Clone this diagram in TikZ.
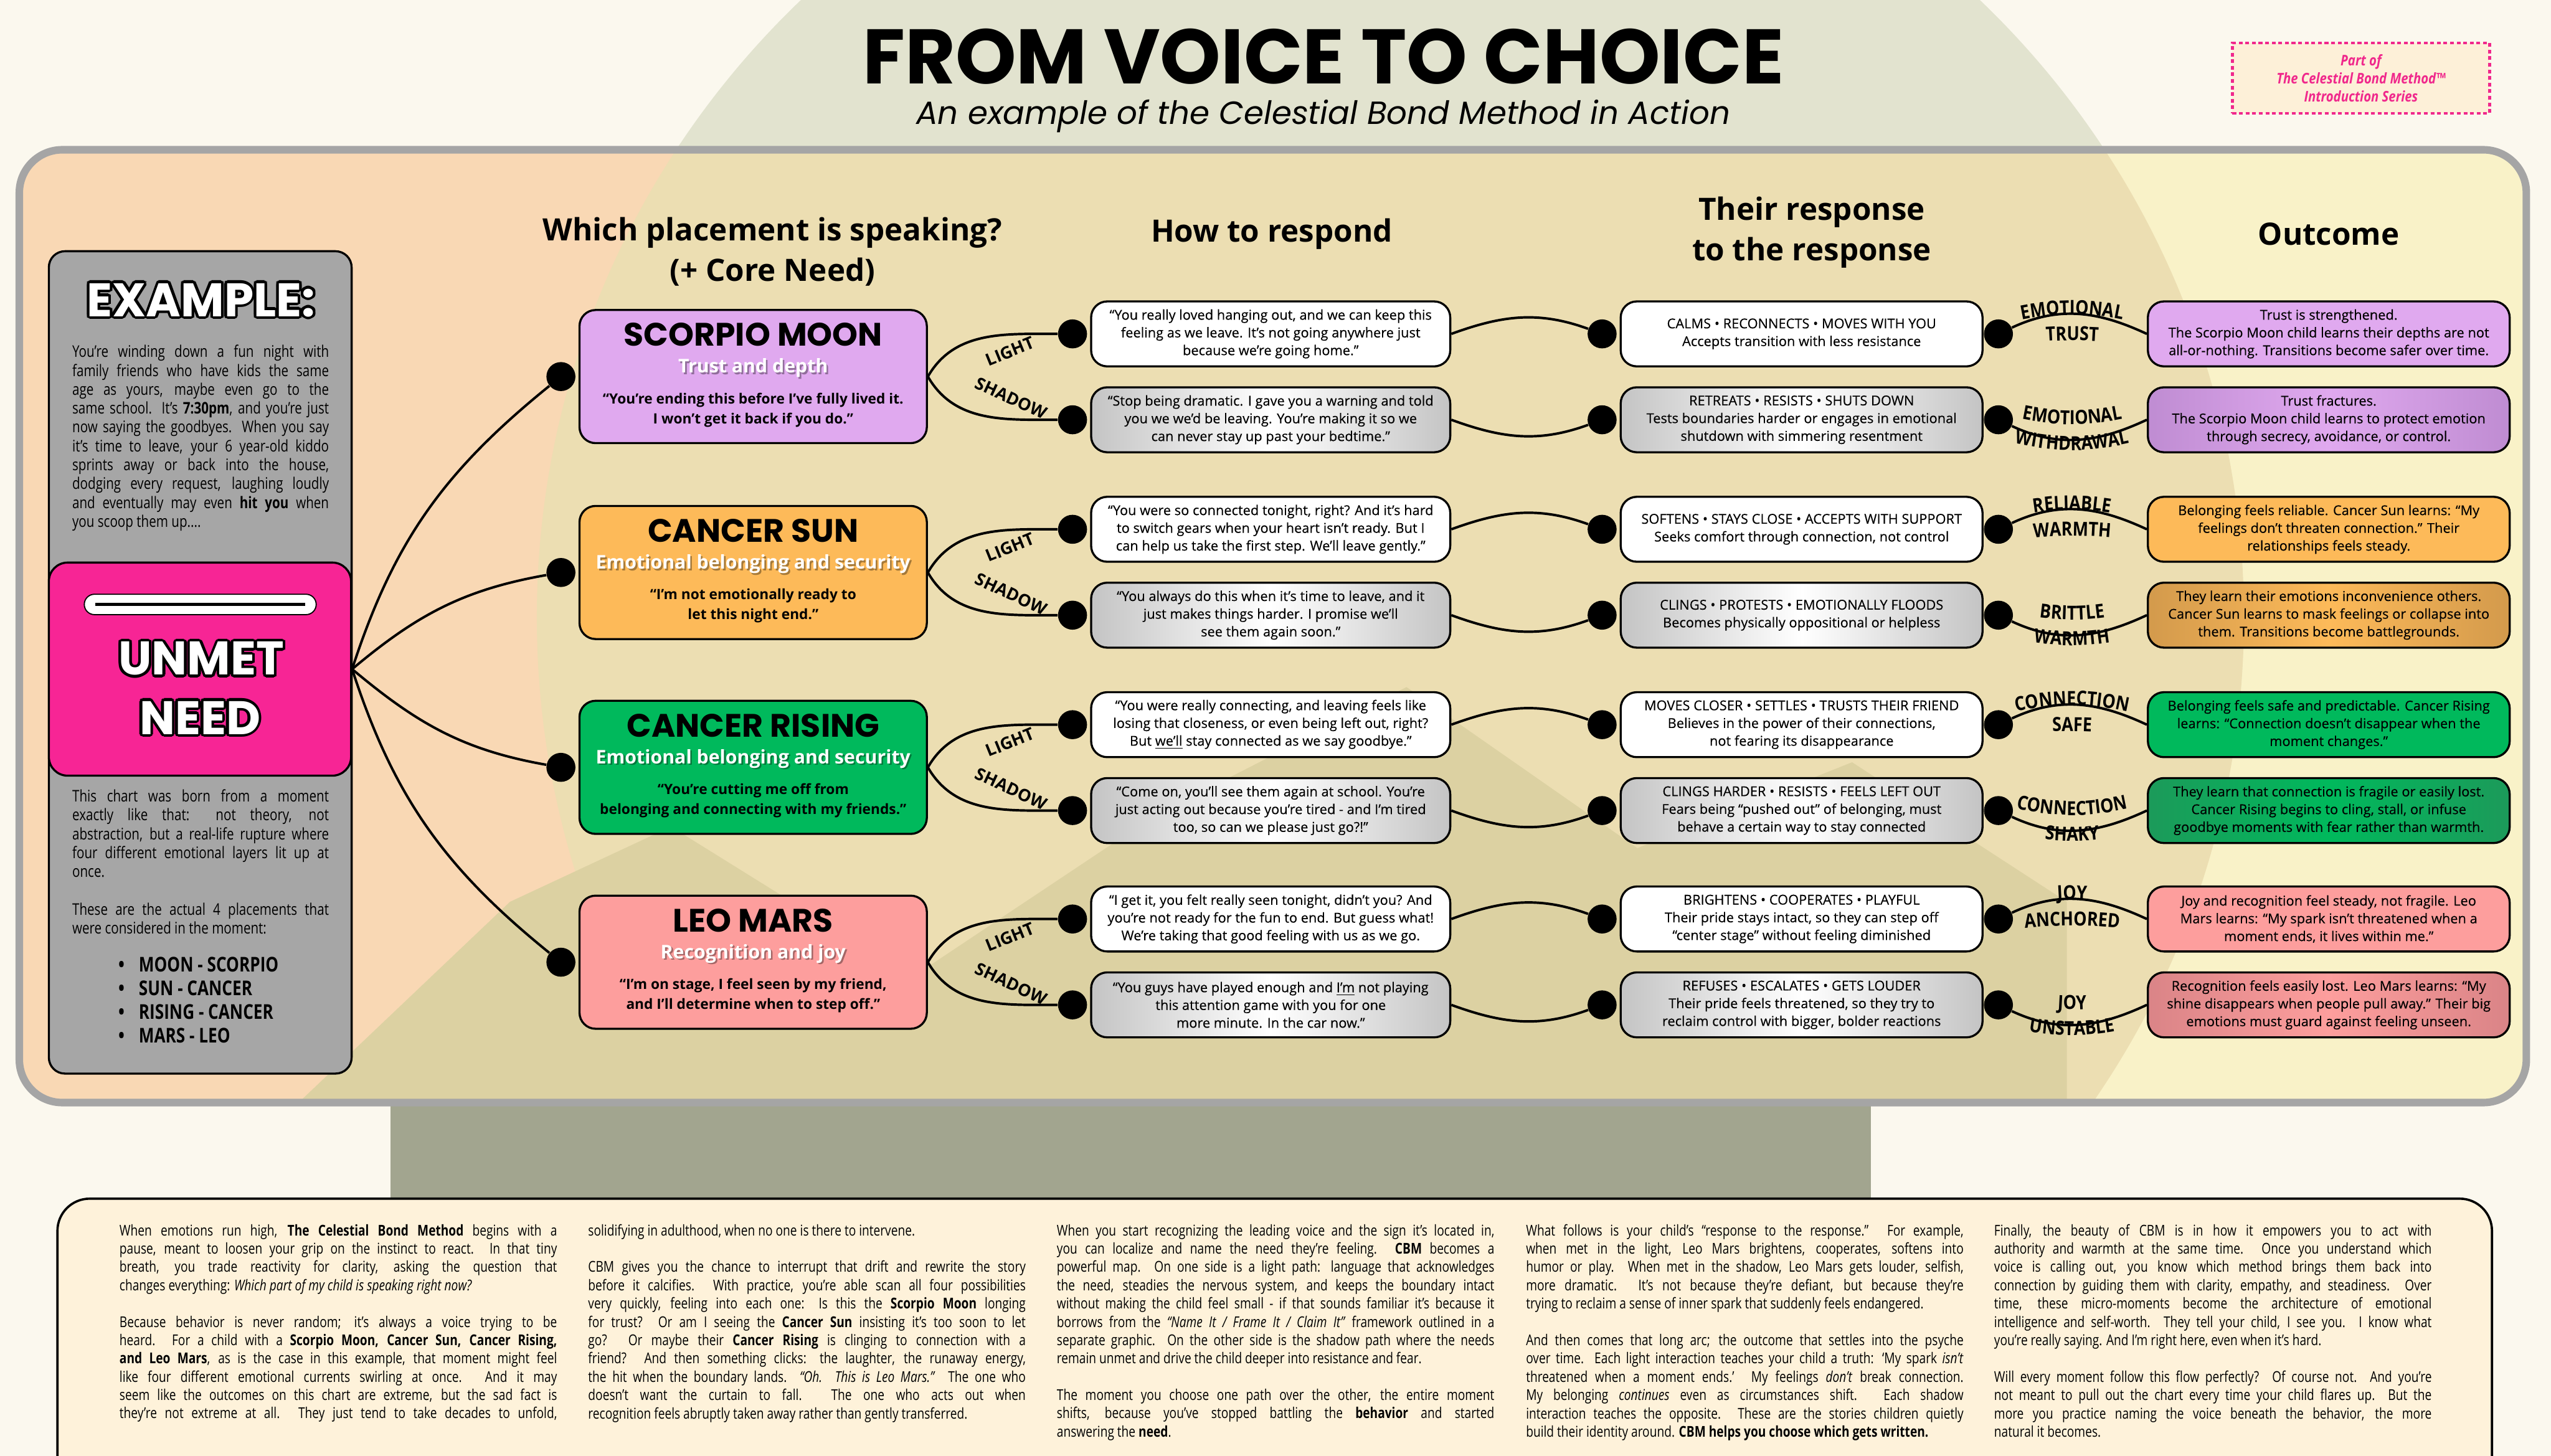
\documentclass[tikz,border=0pt]{standalone}
\usepackage{fontspec}
\setmainfont{Open Sans}
\newfontfamily\popfont{Poppins}
\newfontfamily\narrowfont[FakeStretch=0.8]{Open Sans}
\newfontfamily\midfont[FakeStretch=0.86]{Open Sans}
\newfontfamily\semifont[FakeBold=0.3]{Open Sans}
\usetikzlibrary{positioning,decorations.text}

\tolerance=9999
\pretolerance=9999
\hbadness=10000

\definecolor{pagebg}{HTML}{FBF8EE}
\definecolor{circlebg}{HTML}{E2E3CF}
\definecolor{circlein}{HTML}{ECDEB2}
\definecolor{hillout}{HTML}{A2A58F}
\definecolor{hillin}{HTML}{DCD1A2}
\definecolor{peach}{HTML}{F9D8B4}
\definecolor{lightyel}{HTML}{F9F2C8}
\definecolor{panelrim}{HTML}{A5A5A5}
\definecolor{examplegray}{HTML}{A6A6A6}
\definecolor{needpink}{HTML}{F72595}
\definecolor{badgepink}{HTML}{F0288C}
\definecolor{badgebg}{HTML}{FDF0D8}
\definecolor{textbg}{HTML}{FEF2DA}
\definecolor{moonc}{HTML}{E0A9EF}
\definecolor{moondk}{HTML}{BF8CD2}
\definecolor{sunc}{HTML}{FDBA59}
\definecolor{sundk}{HTML}{D39A4C}
\definecolor{risingc}{HTML}{00B95C}
\definecolor{risingdk}{HTML}{1C9A5A}
\definecolor{marsc}{HTML}{FD9E9D}
\definecolor{marsdk}{HTML}{DA8487}
\definecolor{shadowgray}{HTML}{C4C4C4}

\newcommand{\fvTitle}{\popfont\bfseries\fontsize{41}{44}\selectfont}
\newcommand{\fvSubtitle}{\popfont\itshape\fontsize{17}{20}\selectfont}
\newcommand{\fvBadge}{\midfont\bfseries\itshape\fontsize{7.8}{9.6}\selectfont}
\newcommand{\fvHead}{\bfseries\fontsize{16.3}{21.6}\selectfont}
\newcommand{\fvBig}{\popfont\bfseries\fontsize{25}{31.3}\selectfont}
\newcommand{\fvExample}{\narrowfont\fontsize{8.5}{10}\selectfont}
\newcommand{\fvBullet}{\narrowfont\bfseries\fontsize{10.8}{12}\selectfont}
\newcommand{\fvPlace}{\popfont\bfseries\fontsize{17.2}{19}\selectfont}
\newcommand{\fvNeed}{\bfseries\fontsize{10}{12}\selectfont}
\newcommand{\fvQuote}{\bfseries\fontsize{7.5}{10.5}\selectfont}
\newcommand{\fvBox}{\semifont\fontsize{7.2}{9.4}\selectfont}
\newcommand{\fvArc}{\midfont\bfseries\fontsize{10.3}{12}\selectfont}
\newcommand{\fvFork}{\bfseries\fontsize{9}{11}\selectfont}
\newcommand{\fvBody}{\narrowfont\fontsize{7.9}{9.7}\selectfont}

\tikzset{
  examplebox/.style={draw, line width=1.1pt, fill=examplegray, rounded corners=0.3cm, minimum width=5.64cm, minimum height=15.32cm},
  needbox/.style={draw, line width=1.1pt, fill=needpink, rounded corners=0.35cm, minimum width=5.63cm, minimum height=3.97cm},
  exbody/.style={anchor=north west, text width=4.78cm, align=justify, font=\fvExample, inner sep=0pt},
  bodycol/.style={anchor=north west, font=\fvBody, inner sep=0pt},
  header/.style={font=\fvHead, align=center},
  placebox/.style={draw, line width=1.1pt, rounded corners=0.3cm, minimum width=6.47cm, minimum height=2.48cm},
  ptitle/.style={font=\fvPlace},
  pquote/.style={font=\fvQuote, align=center},
  respbox/.style={draw, line width=1.1pt, rounded corners=0.3cm, minimum width=6.69cm, minimum height=1.21cm, inner sep=0pt, align=center, font=\fvBox},
  reactbox/.style={respbox, minimum width=6.74cm},
  greyshade/.style={left color=shadowgray, right color=shadowgray, middle color=white},
  dot/.style={circle, fill=black, minimum size=0.54cm, inner sep=0pt},
  link/.style={line width=1.3pt},
  fork/.style={font=\fvFork, inner sep=1pt},
  badge/.style={draw=badgepink, dash pattern=on 2pt off 1.5pt, line width=1.5pt, fill=badgebg, minimum width=4.79cm, minimum height=1.31cm, align=center, font=\fvBadge, text=badgepink},
}

% one justified line of the notes
\newcommand{\jl}[1]{\hbox to\hsize{#1}}
\newcommand{\gap}{\vskip 9.7pt}

% white letters with a black rim
\newcommand{\outlinednode}[3]{%
  \foreach \ang in {0,30,...,330}
    \node[font=\fvBig, text=black] at ([shift={(\ang:0.05)}]#2) {#3};
  \node[font=\fvBig, text=white] (#1) at (#2) {#3};}

% white core need with a soft shadow
\newcommand{\needline}[3]{%
  \node[font=\fvNeed, text=black, opacity=0.35] at ([shift={(0.03,-1.13)}]#2.north) {#3};
  \node[font=\fvNeed, text=white] (#1) at ([yshift=-1.10cm]#2.north) {#3};}

% curved word between the last two columns
\newcommand{\arclbl}[3]{%
  \path[decorate, decoration={text along path, text align=center, text={|\fvArc|#3}}] (37.2,#1) to[#2] (40.0,#1);}

\begin{document}
\begin{tikzpicture}
\useasboundingbox (0,0) rectangle (47.52,-27.12);

% Fondo
\fill[pagebg] (0,0) rectangle (47.52,-27.12);
\begin{scope}
  \clip (0,0) rectangle (47.52,-20.6);
  \fill[circlebg] (25.9,-11.5) circle (15.9);
\end{scope}
\fill[hillout] (7.27,-20.3) rectangle (34.85,-22.4);
\begin{scope}
  \clip[rounded corners=0.8cm] (0.36,-2.79) rectangle (47.06,-20.54);
  \fill[peach] (0.36,-2.79) rectangle (25.9,-20.54);
  \fill[lightyel] (25.9,-2.79) rectangle (47.06,-20.54);
  \fill[circlein] (25.9,-11.5) circle (15.9);
  \fill[hillin] (5.5,-20.6) -- (9.5,-16.8) -- (12.5,-15.4) -- (17,-18.2) -- (21.5,-15.2) -- (26.2,-12.8) -- (30.5,-15.8) -- (34.5,-14.2) -- (38.5,-16.8) -- (38.5,-20.6) -- cycle;
\end{scope}
\draw[panelrim, line width=4pt, rounded corners=0.8cm] (0.36,-2.79) rectangle (47.06,-20.54);

% Titulo
\node[font=\fvTitle] (title) at (24.65,-1.05) {FROM VOICE TO CHOICE};
\node[font=\fvSubtitle, anchor=base] (subtitle) at (24.65,-2.31) {An example of the Celestial Bond Method in Action};
\node[badge] (badge) at (43.98,-1.455) {Part of\\The Celestial Bond Method™\\Introduction Series};

% Texto inferior
\draw[fill=textbg, line width=1.2pt, rounded corners=0.6cm] (1.07,-22.33) rectangle (46.42,-28.5);
\node[bodycol] (colA) at (2.22,-22.80) {\vbox{\hsize=8.15cm
\jl{When emotions run high, \textbf{The Celestial Bond Method} begins with a}
\jl{pause, meant to loosen your grip on the instinct to react. In that tiny}
\jl{breath, you trade reactivity for clarity, asking the question that}
\hbox{changes everything: \textit{Which part of my child is speaking right now?}}\gap
\jl{Because behavior is never random; it’s always a voice trying to be}
\jl{heard. For a child with a \textbf{Scorpio Moon, Cancer Sun, Cancer Rising,}}
\jl{\textbf{and Leo Mars}, as is the case in this example, that moment might feel}
\jl{like four different emotional currents swirling at once. And it may}
\jl{seem like the outcomes on this chart are extreme, but the sad fact is}
\jl{they’re not extreme at all. They just tend to take decades to unfold,}}};
\node[bodycol] (colB) at (10.95,-22.80) {\vbox{\hsize=8.15cm
\hbox{solidifying in adulthood, when no one is there to intervene.}\gap
\jl{CBM gives you the chance to interrupt that drift and rewrite the story}
\jl{before it calcifies. With practice, you’re able scan all four possibilities}
\jl{very quickly, feeling into each one: Is this the \textbf{Scorpio Moon} longing}
\jl{for trust? Or am I seeing the \textbf{Cancer Sun} insisting it’s too soon to let}
\jl{go? Or maybe their \textbf{Cancer Rising} is clinging to connection with a}
\jl{friend? And then something clicks: the laughter, the runaway energy,}
\jl{the hit when the boundary lands. \textit{“Oh. This is Leo Mars.”} The one who}
\jl{doesn’t want the curtain to fall. The one who acts out when}
\hbox{recognition feels abruptly taken away rather than gently transferred.}}};
\node[bodycol] (colC) at (19.68,-22.80) {\vbox{\hsize=8.15cm
\jl{When you start recognizing the leading voice and the sign it’s located in,}
\jl{you can localize and name the need they’re feeling. \textbf{CBM} becomes a}
\jl{powerful map. On one side is a light path: language that acknowledges}
\jl{the need, steadies the nervous system, and keeps the boundary intact}
\jl{without making the child feel small - if that sounds familiar it’s because it}
\jl{borrows from the \textit{“Name It / Frame It / Claim It”} framework outlined in a}
\jl{separate graphic. On the other side is the shadow path where the needs}
\hbox{remain unmet and drive the child deeper into resistance and fear.}\gap
\jl{The moment you choose one path over the other, the entire moment}
\jl{shifts, because you’ve stopped battling the \textbf{behavior} and started}
\hbox{answering the \textbf{need}.}}};
\node[bodycol] (colD) at (28.42,-22.80) {\vbox{\hsize=8.15cm
\jl{What follows is your child’s “response to the response.” For example,}
\jl{when met in the light, Leo Mars brightens, cooperates, softens into}
\jl{humor or play. When met in the shadow, Leo Mars gets louder, selfish,}
\jl{more dramatic. It’s not because they’re defiant, but because they’re}
\hbox{trying to reclaim a sense of inner spark that suddenly feels endangered.}\gap
\jl{And then comes that long arc; the outcome that settles into the psyche}
\jl{over time. Each light interaction teaches your child a truth: ‘My spark \textit{isn’t}}
\jl{threatened when a moment ends.’ My feelings \textit{don’t} break connection.}
\jl{My belonging \textit{continues} even as circumstances shift. Each shadow}
\jl{interaction teaches the opposite. These are the stories children quietly}
\hbox{build their identity around. \textbf{CBM helps you choose which gets written.}}}};
\node[bodycol] (colE) at (37.14,-22.80) {\vbox{\hsize=8.15cm
\jl{Finally, the beauty of CBM is in how it empowers you to act with}
\jl{authority and warmth at the same time. Once you understand which}
\jl{voice is calling out, you know which method brings them back into}
\jl{connection by guiding them with clarity, empathy, and steadiness. Over}
\jl{time, these micro-moments become the architecture of emotional}
\jl{intelligence and self-worth. They tell your child, I see you. I know what}
\hbox{you’re really saying. And I’m right here, even when it’s hard.}\gap
\jl{Will every moment follow this flow perfectly? Of course not. And you’re}
\jl{not meant to pull out the chart every time your child flares up. But the}
\jl{more you practice naming the voice beneath the behavior, the more}
\hbox{natural it becomes.}}};

% Ejemplo
\node[examplebox] (example) at (3.73,-12.34) {};
\node[needbox] (need) at (3.725,-12.465) {};
\draw[fill=white, line width=0.6pt, rounded corners=0.19cm] (1.57,-11.07) rectangle (5.89,-11.45);
\draw[line width=1.4pt] (1.78,-11.26) -- (5.68,-11.26);
\outlinednode{example-t}{3.745,-5.59}{EXAMPLE:}
\outlinednode{need-t1}{3.75,-12.27}{UNMET}
\outlinednode{need-t2}{3.725,-13.37}{NEED}
\node[exbody] (story) at (1.34,-6.42) {You’re winding down a fun night with\linebreak
family friends who have kids the same\linebreak
age as yours, maybe even go to the\linebreak
same school. It’s \textbf{7:30pm}, and you’re just\linebreak
now saying the goodbyes. When you say\linebreak
it’s time to leave, your 6 year-old kiddo\linebreak
sprints away or back into the house,\linebreak
dodging every request, laughing loudly\linebreak
and eventually may even \textbf{hit you} when\linebreak
you scoop them up....};
\node[exbody] (origin) at (1.34,-14.70) {This chart was born from a moment\linebreak
exactly like that: not theory, not\linebreak
abstraction, but a real-life rupture where\linebreak
four different emotional layers lit up at\linebreak
once.\par\vspace{10pt}
These are the actual 4 placements that\linebreak
were considered in the moment:};
\foreach \txt [count=\i from 0] in {MOON - SCORPIO, SUN - CANCER, RISING - CANCER, MARS - LEO}
  \node[font=\fvBullet, anchor=west, inner sep=0pt] (bullet\i) at (2.2,{-17.97-0.44*\i}) {•\hspace{0.7em}\txt};

% Encabezados
\node[header] (h-place) at (14.39,-4.69) {Which placement is speaking?\\(+ Core Need)};
\node[header] (h-respond) at (23.69,-4.36) {How to respond};
\node[header] (h-react) at (33.75,-4.33) {Their response\\to the response};
\node[header] (h-outcome) at (43.38,-4.36) {Outcome};

% Placements
\node[placebox, fill=moonc] (moon) at (14.03,-7.015) {};
\node[placebox, fill=sunc] (sun) at (14.03,-10.665) {};
\node[placebox, fill=risingc] (rising) at (14.03,-14.295) {};
\node[placebox, fill=marsc] (mars) at (14.03,-17.925) {};
\foreach \p/\t in {moon/SCORPIO MOON, sun/CANCER SUN, rising/CANCER RISING, mars/LEO MARS}
  \node[ptitle] (\p-t) at ([yshift=-0.48cm]\p.north) {\t};
\needline{moon-n}{moon}{Trust and depth}
\needline{sun-n}{sun}{Emotional belonging and security}
\needline{rising-n}{rising}{Emotional belonging and security}
\needline{mars-n}{mars}{Recognition and joy}
\node[pquote] (moon-q) at ([yshift=-1.88cm]moon.north) {“You’re ending this before I’ve fully lived it.\\I won’t get it back if you do.”};
\node[pquote] (sun-q) at ([yshift=-1.88cm]sun.north) {“I’m not emotionally ready to\\let this night end.”};
\node[pquote] (rising-q) at ([yshift=-1.88cm]rising.north) {“You’re cutting me off from\\belonging and connecting with my friends.”};
\node[pquote] (mars-q) at ([yshift=-1.88cm]mars.north) {“I’m on stage, I feel seen by my friend,\\and I’ll determine when to step off.”};

% Como responder
\node[respbox, fill=white] (moon-l) at (23.67,-6.22) {“You really loved hanging out, and we can keep this\\feeling as we leave. It’s not going anywhere just\\because we’re going home.”};
\node[respbox, greyshade] (moon-s) at (23.67,-7.82) {“Stop being dramatic. I gave you a warning and told\\you we we’d be leaving. You’re making it so we\\can never stay up past your bedtime.”};
\node[respbox, fill=white] (sun-l) at (23.67,-9.86) {“You were so connected tonight, right? And it’s hard\\to switch gears when your heart isn’t ready. But I\\can help us take the first step. We’ll leave gently.”};
\node[respbox, greyshade] (sun-s) at (23.67,-11.46) {“You always do this when it’s time to leave, and it\\just makes things harder. I promise we’ll\\see them again soon.”};
\node[respbox, fill=white] (rising-l) at (23.67,-13.50) {“You were really connecting, and leaving feels like\\losing that closeness, or even being left out, right?\\But \underline{we’ll} stay connected as we say goodbye.”};
\node[respbox, greyshade] (rising-s) at (23.67,-15.10) {“Come on, you’ll see them again at school. You’re\\just acting out because you’re tired - and I’m tired\\too, so can we please just go?!”};
\node[respbox, fill=white] (mars-l) at (23.67,-17.12) {“I get it, you felt really seen tonight, didn’t you? And\\you’re not ready for the fun to end. But guess what!\\We’re taking that good feeling with us as we go.};
\node[respbox, greyshade] (mars-s) at (23.67,-18.72) {“You guys have played enough and \underline{I’m} not playing\\this attention game with you for one\\more minute. In the car now.”};

% Su respuesta
\node[reactbox, fill=white] (moon-l-re) at (33.56,-6.22) {CALMS • RECONNECTS • MOVES WITH YOU\\Accepts transition with less resistance};
\node[reactbox, greyshade] (moon-s-re) at (33.56,-7.82) {RETREATS • RESISTS • SHUTS DOWN\\Tests boundaries harder or engages in emotional\\shutdown with simmering resentment};
\node[reactbox, fill=white] (sun-l-re) at (33.56,-9.86) {SOFTENS • STAYS CLOSE • ACCEPTS WITH SUPPORT\\Seeks comfort through connection, not control};
\node[reactbox, greyshade] (sun-s-re) at (33.56,-11.46) {CLINGS • PROTESTS • EMOTIONALLY FLOODS\\Becomes physically oppositional or helpless};
\node[reactbox, fill=white] (rising-l-re) at (33.56,-13.50) {MOVES CLOSER • SETTLES • TRUSTS THEIR FRIEND\\Believes in the power of their connections,\\not fearing its disappearance};
\node[reactbox, greyshade] (rising-s-re) at (33.56,-15.10) {CLINGS HARDER • RESISTS • FEELS LEFT OUT\\Fears being “pushed out” of belonging, must\\behave a certain way to stay connected};
\node[reactbox, fill=white] (mars-l-re) at (33.56,-17.12) {BRIGHTENS • COOPERATES • PLAYFUL\\Their pride stays intact, so they can step off\\“center stage” without feeling diminished};
\node[reactbox, greyshade] (mars-s-re) at (33.56,-18.72) {REFUSES • ESCALATES • GETS LOUDER\\Their pride feels threatened, so they try to\\reclaim control with bigger, bolder reactions};

% Resultado
\node[reactbox, fill=moonc] (moon-l-out) at (43.38,-6.22) {Trust is strengthened.\\The Scorpio Moon child learns their depths are not\\all-or-nothing. Transitions become safer over time.};
\node[reactbox, left color=moondk, right color=moondk, middle color=moonc] (moon-s-out) at (43.38,-7.82) {Trust fractures.\\The Scorpio Moon child learns to protect emotion\\through secrecy, avoidance, or control.};
\node[reactbox, fill=sunc] (sun-l-out) at (43.38,-9.86) {Belonging feels reliable. Cancer Sun learns: “My\\feelings don’t threaten connection.” Their\\relationships feels steady.};
\node[reactbox, left color=sundk, right color=sundk, middle color=sunc] (sun-s-out) at (43.38,-11.46) {They learn their emotions inconvenience others.\\Cancer Sun learns to mask feelings or collapse into\\them. Transitions become battlegrounds.};
\node[reactbox, fill=risingc] (rising-l-out) at (43.38,-13.50) {Belonging feels safe and predictable. Cancer Rising\\learns: “Connection doesn’t disappear when the\\moment changes.”};
\node[reactbox, left color=risingdk, right color=risingdk, middle color=risingc] (rising-s-out) at (43.38,-15.10) {They learn that connection is fragile or easily lost.\\Cancer Rising begins to cling, stall, or infuse\\goodbye moments with fear rather than warmth.};
\node[reactbox, fill=marsc] (mars-l-out) at (43.38,-17.12) {Joy and recognition feel steady, not fragile. Leo\\Mars learns: “My spark isn’t threatened when a\\moment ends, it lives within me.”};
\node[reactbox, left color=marsdk, right color=marsdk, middle color=marsc] (mars-s-out) at (43.38,-18.72) {Recognition feels easily lost. Leo Mars learns: “My\\shine disappears when people pull away.” Their big\\emotions must guard against feeling unseen.};

% Puntos
\foreach \p in {moon,sun,rising,mars}{
  \node[dot, left=0.05cm of \p] (\p-in) {};
  \foreach \s in {l,s}{
    \node[dot, left=0.05cm of \p-\s] (\p-\s-in) {};
    \node[dot, left=0.05cm of \p-\s-re] (\p-\s-re-in) {};
    \node[dot, right=0cm of \p-\s-re] (\p-\s-re-out) {};
  }
}

% Conexiones
\foreach \p/\o/\i in {moon/72/219, sun/40/190, rising/-40/170, mars/-72/141}
  \draw[link] (need.east) to[out=\o,in=\i] (\p-in);
\foreach \p in {moon,sun,rising,mars}{
  \draw[link] (\p.east) to[out=60,in=180] (\p-l-in);
  \draw[link] (\p.east) to[out=-60,in=180] (\p-s-in);
  \draw[link] (\p-l.east) to[out=20,in=160] (\p-l-re-in);
  \draw[link] (\p-s.east) to[out=-20,in=-160] (\p-s-re-in);
  \draw[link] (\p-l-re-out) to[out=25,in=155] (\p-l-out.west);
  \draw[link] (\p-s-re-out) to[out=-25,in=-155] (\p-s-out.west);
  \node[fork, rotate=22] (\p-lt) at ([shift={(1.53,0.47)}]\p.east) {LIGHT};
  \node[fork, rotate=-25] (\p-st) at ([shift={(1.55,-0.40)}]\p.east) {SHADOW};
}

% Palabras curvas
\arclbl{-6.065}{bend left=15}{EMOTIONAL}
\arclbl{-6.455}{bend left=8}{TRUST}
\arclbl{-7.695}{bend right=15}{EMOTIONAL}
\arclbl{-8.175}{bend right=15}{WITHDRAWAL}
\arclbl{-9.705}{bend left=15}{RELIABLE}
\arclbl{-10.095}{bend left=8}{WARMTH}
\arclbl{-11.335}{bend right=15}{BRITTLE}
\arclbl{-11.815}{bend right=15}{WARMTH}
\arclbl{-13.345}{bend left=15}{CONNECTION}
\arclbl{-13.735}{bend left=8}{SAFE}
\arclbl{-14.975}{bend right=15}{CONNECTION}
\arclbl{-15.455}{bend right=15}{SHAKY}
\arclbl{-16.965}{bend left=15}{JOY}
\arclbl{-17.355}{bend left=8}{ANCHORED}
\arclbl{-18.595}{bend right=15}{JOY}
\arclbl{-19.075}{bend right=15}{UNSTABLE}

\end{tikzpicture}
\end{document}
